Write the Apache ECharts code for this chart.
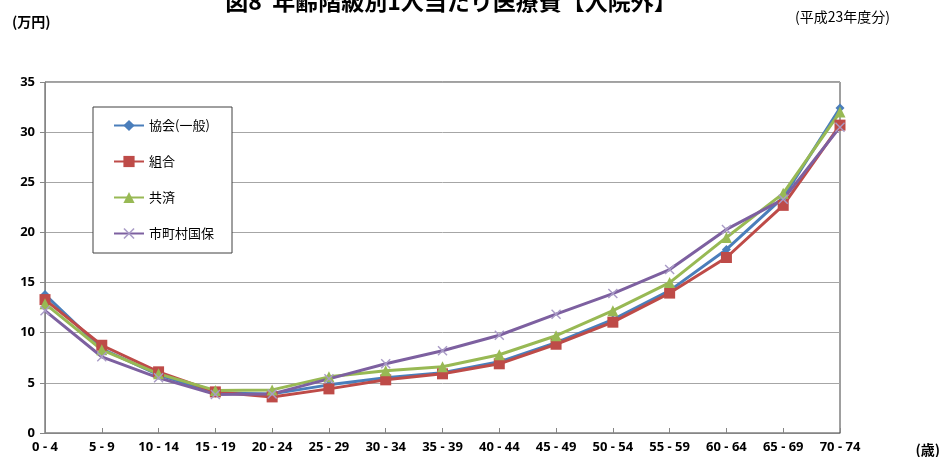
<!DOCTYPE html>
<html>
<head>
<meta charset="utf-8">
<script src="https://cdn.jsdelivr.net/npm/echarts@6/dist/echarts.min.js"></script>
<style>
  html, body { margin: 0; padding: 0; background: #fff; }
  #chart { width: 944px; height: 457px; }
</style>
</head>
<body>
<div id="chart"></div>
<script>
// Age groups (categories on the x axis)
const ageGroups = ['0 - 4', '5 - 9', '10 - 14', '15 - 19', '20 - 24', '25 - 29', '30 - 34',
  '35 - 39', '40 - 44', '45 - 49', '50 - 54', '55 - 59', '60 - 64', '65 - 69', '70 - 74'];

// Per-capita outpatient medical cost (万円) by insurer type
const kyokai  = [13.8, 8.4, 5.8, 4.0, 3.9, 4.8, 5.5, 6.0, 7.1, 9.0, 11.3, 14.2, 18.3, 23.5, 32.4];
const kumiai  = [13.3, 8.75, 6.1, 4.1, 3.6, 4.4, 5.3, 5.9, 6.9, 8.85, 11.05, 13.95, 17.5, 22.7, 30.7];
const kyosai  = [12.9, 8.3, 5.9, 4.25, 4.3, 5.6, 6.2, 6.6, 7.8, 9.7, 12.2, 15.0, 19.5, 23.9, 32.0];
const kokuho  = [12.2, 7.6, 5.5, 3.85, 3.9, 5.4, 6.9, 8.2, 9.75, 11.85, 13.9, 16.3, 20.3, 23.3, 30.5];

const seriesNames = ['協会(一般)', '組合', '共済', '市町村国保'];
const yTicks = [0, 5, 10, 15, 20, 25, 30, 35];

const JP = '"Noto Sans CJK JP", "Noto Sans", sans-serif';
const crossPath = 'path://M0,1L1,0L5,4L9,0L10,1L6,5L10,9L9,10L5,6L1,10L0,9L4,5Z';

const chart = echarts.init(document.getElementById('chart'));

function lineSeries(name, data, color, symbol, size, symbolColor) {
  return {
    name: name,
    type: 'line',
    data: data,
    symbol: symbol,
    symbolSize: size,
    lineStyle: { color: color, width: 3 },
    itemStyle: { color: symbolColor || color },
    emphasis: { disabled: true },
    animation: false
  };
}

chart.setOption({
  animation: false,
  backgroundColor: '#fff',
  textStyle: { fontFamily: JP },
  grid: {
    left: 45, right: 104, top: 82, bottom: 24,
    show: true, borderColor: '#404040', borderWidth: 1
  },
  legend: {
    orient: 'vertical',
    left: 93, top: 107,
    padding: [12, 18, 13, 20],
    itemGap: 23,
    itemWidth: 30,
    itemHeight: 14,
    backgroundColor: '#fff',
    borderColor: '#404040',
    borderWidth: 1,
    borderRadius: 0,
    data: seriesNames,
    textStyle: { fontSize: 13, color: '#000', fontFamily: JP }
  },
  xAxis: {
    type: 'category',
    data: ageGroups,
    boundaryGap: false,
    axisLine: { lineStyle: { color: '#868686', width: 1 } },
    axisTick: { show: true, inside: true, length: 5, lineStyle: { color: '#868686' } },
    axisLabel: { color: '#000', fontSize: 13, fontWeight: 'bold', margin: 8, fontFamily: '"Noto Sans", sans-serif' },
    splitLine: { show: false }
  },
  yAxis: {
    type: 'value',
    min: yTicks[0], max: yTicks[yTicks.length - 1], interval: 5,
    axisLine: { show: true, lineStyle: { color: '#868686', width: 1 } },
    axisTick: { show: true, length: 5, lineStyle: { color: '#868686' } },
    axisLabel: { color: '#000', fontSize: 13, fontWeight: 'bold', margin: 10, fontFamily: '"Noto Sans", sans-serif' },
    splitLine: { lineStyle: { color: '#a6a6a6', width: 1 } }
  },
  series: [
    lineSeries(seriesNames[0], kyokai, '#4a7ebb', 'diamond', 9),
    lineSeries(seriesNames[1], kumiai, '#be4b48', 'rect', 11),
    lineSeries(seriesNames[2], kyosai, '#98b954', 'triangle', 11),
    lineSeries(seriesNames[3], kokuho, '#7d60a0', crossPath, 10, '#a99bc6')
  ],
  graphic: [
    {
      type: 'text', x: 451, y: 1,
      style: {
        text: '図8  年齢階級別1人当たり医療費【入院外】',
        font: 'bold 23px ' + JP, fill: '#000',
        align: 'center', verticalAlign: 'middle'
      }
    },
    {
      type: 'text', x: 12, y: 22,
      style: { text: '(万円)', font: 'bold 14px ' + JP, fill: '#000', align: 'left', verticalAlign: 'middle' }
    },
    {
      type: 'text', x: 890, y: 17,
      style: { text: '(平成23年度分)', font: '14px ' + JP, fill: '#000', align: 'right', verticalAlign: 'middle' }
    },
    {
      type: 'text', x: 940, y: 450,
      style: { text: '(歳)', font: 'bold 14px ' + JP, fill: '#000', align: 'right', verticalAlign: 'middle' }
    }
  ]
});
</script>
</body>
</html>
